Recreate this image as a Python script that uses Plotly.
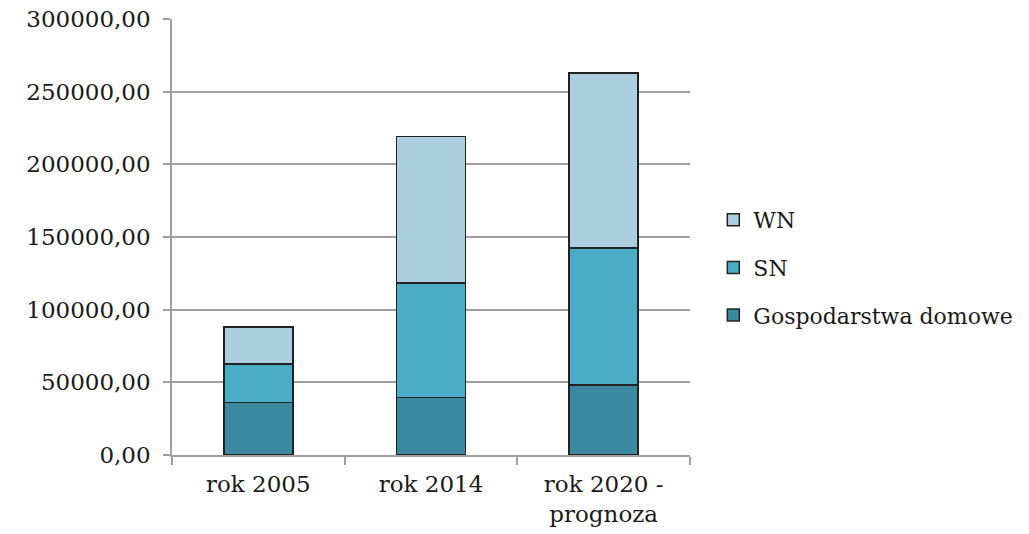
import plotly.graph_objects as go

categories = ["rok 2005", "rok 2014", "rok 2020 -<br>prognoza"]
gospodarstwa = [36000, 39500, 48200]
sn = [26600, 78700, 94100]
wn = [25500, 100800, 120700]

# (name, values, fill colour, legend position)
series = [
    ("Gospodarstwa domowe", gospodarstwa, "#3b89a0", 3),
    ("SN", sn, "#4aacc6", 2),
    ("WN", wn, "#abcfdf", 1),
]

font_family = "DejaVu Serif"

fig = go.Figure()
for name, values, color, rank in series:
    fig.add_trace(go.Bar(
        x=categories, y=values, name=name, legendgroup=name, legendrank=rank,
        marker=dict(color=color, line=dict(color="#222222", width=1.5)),
    ))

fig.update_layout(
    barmode="stack",
    bargap=0.6,
    width=1029, height=534,
    margin=dict(l=172, r=339, t=19, b=79, autoexpand=False),
    paper_bgcolor="white", plot_bgcolor="white",
    separators=", ",
    font=dict(family=font_family, size=22, color="#1a1a1a"),
    showlegend=True,
    legend=dict(
        x=1.045, xanchor="left", y=0.43, yanchor="middle",
        traceorder="grouped", tracegroupgap=16,
        font=dict(family=font_family, size=22),
        itemwidth=30,
    ),
    xaxis=dict(
        showline=True, linecolor="#a0a0a0", linewidth=1.5,
        ticks="outside", tickson="boundaries", ticklen=8, tickcolor="#a0a0a0",
        tickwidth=1.5, showgrid=False, automargin=False,
        ticklabelstandoff=8,
        tickfont=dict(family=font_family, size=23),
    ),
    yaxis=dict(
        range=[0, 300000], dtick=50000, tickformat=".2f",
        showline=True, linecolor="#a0a0a0", linewidth=1.5,
        ticks="outside", ticklen=7, tickcolor="#a0a0a0", tickwidth=1.5,
        showgrid=True, gridcolor="#a0a0a0", gridwidth=1.5,
        zeroline=False, automargin=False, ticklabelstandoff=8,
        tickfont=dict(family=font_family, size=23),
    ),
)

fig.write_html("out.html")
